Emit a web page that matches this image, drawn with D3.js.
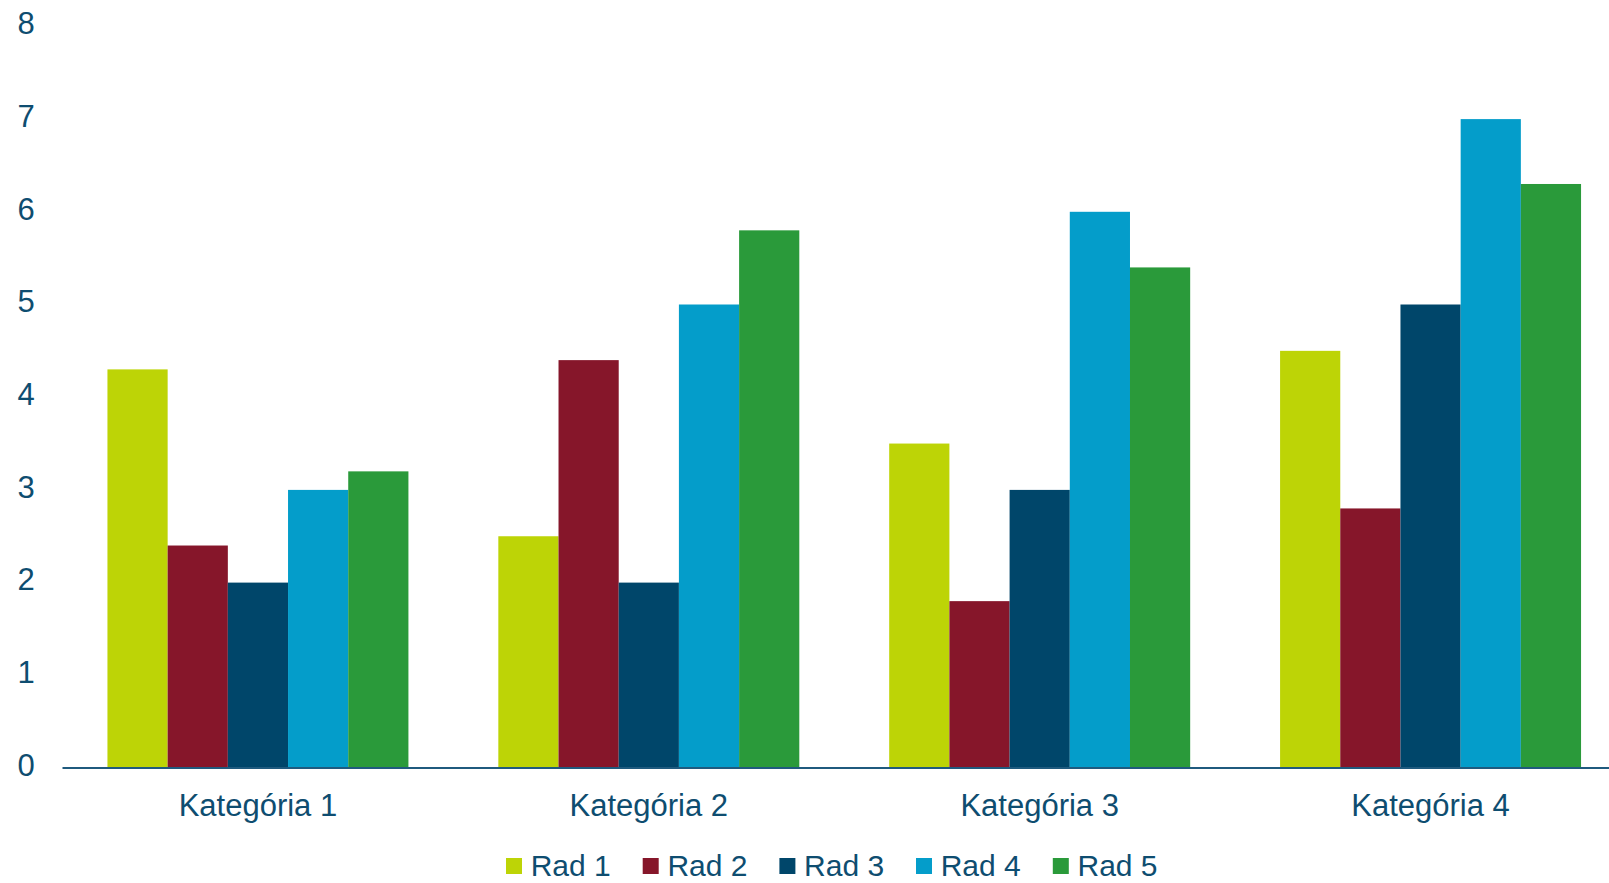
<!DOCTYPE html>
<html>
<head>
<meta charset="utf-8">
<script src="https://cdn.jsdelivr.net/npm/d3@7"></script>
<style>
  body { margin: 0; background: #fff; overflow: hidden; }
  text { font-family: "Liberation Sans", Arial, sans-serif; fill: #0E4D70; }
</style>
</head>
<body>
<svg></svg>
<script>
var width = 1609;
var height = 883;

var categories = ["Kategória 1", "Kategória 2", "Kategória 3", "Kategória 4"];
var series = ["Rad 1", "Rad 2", "Rad 3", "Rad 4", "Rad 5"];
var rad1 = [4.3, 2.5, 3.5, 4.5];
var rad2 = [2.4, 4.4, 1.8, 2.8];
var rad3 = [2, 2, 3, 5];
var rad4 = [3, 5, 6, 7];
var rad5 = [3.2, 5.8, 5.4, 6.3];
var yTicks = [0, 1, 2, 3, 4, 5, 6, 7, 8];
var colors = ["#BDD406", "#86162A", "#00466A", "#049DCA", "#2A9A3A"];

var values = [rad1, rad2, rad3, rad4, rad5];

// plot area runs a bit past the right edge of the picture
var plotLeft = 62.5, plotRight = 1626, plotTop = 26.4, plotBottom = 768;

var svg = d3.select('svg')
  .attr('width', width)
  .attr('height', height);

var x0 = d3.scaleBand().domain(categories).range([plotLeft, plotRight]).padding(0);
var step = x0.bandwidth();
var x1 = d3.scaleBand().domain(series).range([step*0.115, step*0.885]).padding(0);
var y = d3.scaleLinear().domain([0, 8]).range([plotBottom, plotTop]);

// y labels
svg.append('g').selectAll('text')
  .data(yTicks)
  .enter().append('text')
  .attr('x', 26)
  .attr('y', function(d){ return y(d) - 3; })
  .attr('dy', '0.35em')
  .attr('text-anchor', 'middle')
  .style('font-size', '31px')
  .text(function(d){ return d; });

// bars
var groups = svg.append('g').selectAll('g')
  .data(categories)
  .enter().append('g')
  .attr('transform', function(d){ return 'translate(' + x0(d) + ',0)'; });

groups.selectAll('rect')
  .data(function(d, i){
    return series.map(function(s, j){ return {s: s, v: values[j][i], c: colors[j]}; });
  })
  .enter().append('rect')
  .attr('x', function(d){ return x1(d.s); })
  .attr('width', x1.bandwidth())
  .attr('y', function(d){ return y(d.v); })
  .attr('height', function(d){ return plotBottom - y(d.v); })
  .attr('fill', function(d){ return d.c; });

// axis line
svg.append('line')
  .attr('x1', plotLeft).attr('x2', plotRight)
  .attr('y1', plotBottom).attr('y2', plotBottom)
  .attr('stroke', '#1F5A7E')
  .attr('stroke-width', 2);

// category labels
svg.append('g').selectAll('text')
  .data(categories)
  .enter().append('text')
  .attr('x', function(d){ return x0(d) + step/2; })
  .attr('y', 816)
  .attr('text-anchor', 'middle')
  .style('font-size', '31px')
  .text(function(d){ return d; });

// legend
var legendX = [506, 642.7, 779.4, 916, 1052.8];
var legend = svg.append('g').selectAll('g')
  .data(series)
  .enter().append('g')
  .attr('transform', function(d, i){ return 'translate(' + legendX[i] + ',0)'; });

legend.append('rect')
  .attr('x', 0).attr('y', 858)
  .attr('width', 16).attr('height', 16)
  .attr('fill', function(d, i){ return colors[i]; });

legend.append('text')
  .attr('x', 24.7)
  .attr('y', 876)
  .style('font-size', '30px')
  .text(function(d){ return d; });
</script>
</body>
</html>
